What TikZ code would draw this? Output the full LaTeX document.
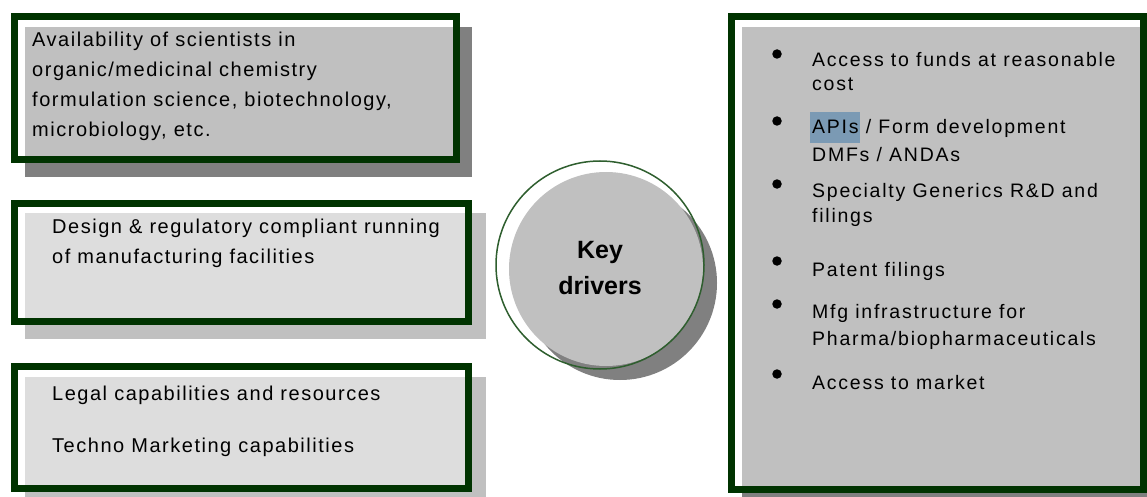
\documentclass[tikz,border=0pt]{standalone}
\usepackage{fontspec}
\setmainfont{Liberation Sans}
\newfontfamily\lsp{Liberation Sans}[LetterSpace=7.6]
\newfontfamily\rsp{Liberation Sans}[LetterSpace=9]
\definecolor{frmgreen}{HTML}{003300}
\definecolor{circgreen}{HTML}{2E5E2E}
\definecolor{midgray}{HTML}{C0C0C0}
\definecolor{darkgray}{HTML}{808080}
\definecolor{lightgray}{HTML}{DDDDDD}
\definecolor{hilite}{HTML}{7B9AB4}
\begin{document}
\begin{tikzpicture}[x=1pt,y=-1pt,
  ltxt/.style={anchor=base west,inner sep=0pt,font=\lsp\fontsize{20}{24}\selectfont},
  rtxt/.style={anchor=base west,inner sep=0pt,font=\rsp\fontsize{19.5}{24}\selectfont},
  frm/.style={draw=frmgreen,line width=7pt},
  bul/.style={circle,fill=black,inner sep=0pt,minimum size=9.5pt},
  keytxt/.style={anchor=base,inner sep=0pt,font=\bfseries\fontsize{25}{30}\selectfont}
]
\fill[white] (0,0) rectangle (1147,497);
\useasboundingbox (0,0) rectangle (1147,497);

% Box 1
\fill[darkgray] (25,27) rectangle (472,177);
\fill[white] (11,13) rectangle (460,163);
\fill[midgray] (25,27) rectangle (460,163);
\draw[frm] (14.5,16.5) rectangle (456.5,160);

% Box 2
\fill[midgray] (25,213) rectangle (486,339);
\fill[white] (11,200) rectangle (472,325);
\fill[lightgray] (25,213) rectangle (472,325);
\draw[frm] (14.5,203.5) rectangle (468.5,321.5);

% Box 3
\fill[midgray] (25,377) rectangle (486,497);
\fill[white] (11,363) rectangle (472,492);
\fill[lightgray] (25,377) rectangle (472,492);
\draw[frm] (14.5,366.5) rectangle (468.5,488.5);

% Right box
\fill[darkgray] (742,27) rectangle (1147,497);
\fill[white] (728,13) rectangle (1147,493);
\fill[midgray] (742,27) rectangle (1147,493);
\draw[frm] (731.5,16.5) rectangle (1143.5,489.5);

% Circle
\fill[darkgray] (620,283) circle[radius=97];
\fill[midgray] (606,269) circle[radius=97];
\draw[circgreen,line width=1.5pt] (600,265) circle[radius=104];
\node[keytxt] (key1) at (600,258) {Key};
\node[keytxt] (key2) at (600,294) {drivers};

% Box 1 text
\node[ltxt] (a1) at (32,47) {Availability of scientists in};
\node[ltxt] (a2) at (32,77) {organic/medicinal chemistry};
\node[ltxt] (a3) at (32,107) {formulation science, biotechnology,};
\node[ltxt] (a4) at (32,137) {microbiology, etc.};

% Box 2 text
\node[ltxt] (d1) at (52,233) {Design \& regulatory compliant running};
\node[ltxt] (d2) at (52,263) {of manufacturing facilities};

% Box 3 text
\node[ltxt] (l1) at (52,400) {Legal capabilities and resources};
\node[ltxt] (l2) at (52,452) {Techno Marketing capabilities};

% Right box bullets
\fill[hilite] (810,112) rectangle (860,143);
\node[bul] (b1) at (777,54) {};
\node[bul] (b2) at (777,121) {};
\node[bul] (b3) at (777,184) {};
\node[bul] (b4) at (777,261) {};
\node[bul] (b5) at (777,304) {};
\node[bul] (b6) at (777,374) {};

\node[rtxt] (r1a) at (812,67) {Access to funds at reasonable};
\node[rtxt] (r1b) at (812,91) {cost};
\node[rtxt] (r2a) at (812,134) {APIs / Form development};
\node[rtxt] (r2b) at (812,162) {DMFs / ANDAs};
\node[rtxt] (r3a) at (812,197) {Specialty Generics R\&D and};
\node[rtxt] (r3b) at (812,222) {filings};
\node[rtxt] (r4) at (812,276) {Patent filings};
\node[rtxt] (r5a) at (812,318) {Mfg infrastructure for};
\node[rtxt] (r5b) at (812,345) {Pharma/biopharmaceuticals};
\node[rtxt] (r6) at (812,389) {Access to market};
\end{tikzpicture}
\end{document}
